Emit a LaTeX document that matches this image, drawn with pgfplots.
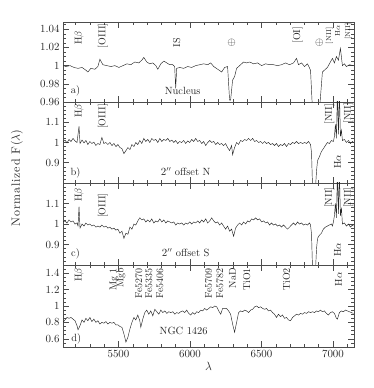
\documentclass[border=0pt]{standalone}
\usepackage{fontspec}
\usepackage{pgfplots}
\usepackage{pgfplotstable}
\pgfplotsset{compat=1.18}
\newfontfamily\widefont{lmroman10-regular}[Extension=.otf, LetterSpace=7]

\pgfplotsset{
  panel/.style={
    scale only axis, width=291bp,
    xmin=5112, xmax=7147,
    xtick={5500,6000,6500,7000},
    minor xtick={5200,5300,...,7100},
    tick align=inside,
    major tick length=6bp, minor tick length=3bp,
    axis line style={black!70, line width=0.6pt},
    every tick/.style={black!70, line width=0.5pt},
    every tick label/.append style={font=\fontsize{11}{13}\selectfont, text=black!85},
    /pgf/number format/1000 sep={},
    clip=true,
  },
  nolabels/.style={xticklabels={}},
}
\tikzset{
  spec/.style={black!85, line width=0.45pt},
  lbl/.style={rotate=90, font=\fontsize{10}{12}\selectfont, inner sep=0pt, anchor=east, text=black!85},
  slbl/.style={rotate=90, font=\fontsize{7}{8}\selectfont, inner sep=0pt, anchor=east, text=black!85},
  ptxt/.style={font=\fontsize{10.5}{12}\selectfont, inner sep=0pt, text=black!85},
}

\begin{document}

% a) nucleus
\pgfplotstableread{
lam f
5112 1.000
5133 0.999
5161 1.000
5189 0.998
5217 0.997
5245 0.998
5272 0.995
5286 0.993
5307 0.997
5335 0.996
5356 0.999
5370 1.007
5391 1.001
5419 1.000
5447 0.999
5475 1.000
5503 0.998
5531 1.000
5559 1.002
5586 1.001
5614 1.004
5642 1.003
5663 1.006
5677 1.009
5698 1.004
5719 1.002
5740 1.003
5761 1.000
5775 0.996
5796 1.002
5817 1.005
5838 1.003
5858 1.001
5879 1.001
5893 0.999
5900 0.975
5907 0.997
5928 0.998
5956 0.997
5984 0.999
6012 0.998
6040 1.000
6068 1.001
6096 1.002
6124 1.001
6145 1.003
6166 0.999
6194 0.996
6222 0.993
6242 0.998
6263 0.999
6277 0.962
6284 0.962
6298 0.984
6312 0.988
6326 0.997
6347 1.000
6375 1.004
6396 1.003
6417 1.004
6445 1.002
6473 1.003
6501 1.000
6529 1.002
6556 1.001
6584 1.001
6612 1.000
6640 1.001
6668 1.003
6696 1.001
6724 1.003
6745 1.008
6759 1.001
6780 1.003
6801 0.999
6822 1.002
6843 0.995
6857 0.950
6905 0.950
6926 0.993
6947 0.996
6961 0.998
6982 1.004
6996 1.008
7010 1.003
7024 1.010
7038 1.006
7052 1.019
7066 1.000
7080 1.002
7094 0.999
7115 1.001
7143 1.000
}\nucleus

% b) 2'' offset N
\pgfplotstableread{
lam f
5112 1.005
5126 1.012
5140 0.998
5154 1.015
5168 1.005
5182 1.020
5196 1.008
5210 1.000
5224 1.080
5231 0.995
5245 1.012
5259 0.998
5272 1.010
5286 0.990
5300 1.005
5314 0.995
5328 1.002
5342 0.985
5356 0.995
5370 0.990
5384 1.025
5398 0.995
5412 1.000
5426 0.990
5440 1.000
5454 0.985
5468 0.995
5482 0.980
5496 0.990
5510 0.975
5524 0.970
5538 0.945
5552 0.960
5566 0.975
5580 0.965
5594 0.990
5608 0.980
5621 1.000
5635 0.990
5649 1.010
5663 0.995
5677 1.020
5691 1.005
5705 1.015
5719 1.000
5733 1.020
5747 1.010
5761 1.015
5775 1.000
5789 1.020
5803 1.005
5817 1.015
5831 1.010
5845 1.020
5859 1.005
5873 1.012
5887 1.000
5900 1.010
5914 0.995
5928 1.005
5942 1.000
5956 1.010
5970 0.995
5984 1.008
5998 1.000
6012 1.015
6026 1.005
6040 1.020
6054 1.005
6068 1.010
6082 0.995
6096 1.005
6110 0.985
6124 1.000
6138 1.010
6152 1.000
6166 1.005
6180 0.990
6194 1.000
6207 0.990
6221 0.995
6235 0.985
6249 0.995
6263 0.975
6277 0.960
6291 0.985
6298 0.940
6312 0.975
6326 1.000
6340 0.990
6354 1.010
6368 1.005
6382 1.015
6396 1.010
6410 1.020
6424 1.010
6438 1.020
6452 1.005
6466 1.010
6480 1.000
6494 1.005
6508 0.995
6522 1.005
6535 0.995
6549 1.000
6563 0.990
6577 0.995
6591 0.985
6605 0.995
6619 0.980
6633 0.990
6647 0.985
6661 0.995
6675 0.980
6689 0.995
6703 0.990
6717 1.000
6731 0.995
6745 1.005
6759 0.995
6773 1.000
6787 0.995
6801 1.000
6815 0.995
6829 1.005
6843 0.990
6850 0.950
6857 0.780
6878 0.780
6885 0.860
6892 0.910
6905 0.930
6919 0.955
6933 0.970
6947 0.985
6961 1.000
6975 0.995
6989 1.010
7003 1.005
7010 1.030
7017 1.090
7024 1.020
7031 1.250
7038 1.040
7045 1.250
7052 1.030
7059 1.060
7066 1.010
7080 1.015
7094 1.000
7108 1.010
7122 0.995
7136 1.005
7143 1.000
}\offsetN

% c) 2'' offset S
\pgfplotstableread{
lam f
5112 1.010
5126 1.015
5140 1.005
5154 1.020
5168 1.010
5182 1.015
5196 1.000
5210 1.005
5217 0.990
5224 1.085
5231 0.980
5245 1.000
5259 0.990
5272 1.005
5286 0.995
5300 1.000
5314 0.990
5328 0.995
5342 0.985
5356 0.990
5370 0.985
5384 0.995
5398 0.985
5412 0.990
5426 0.980
5440 0.985
5454 0.975
5468 0.980
5482 0.970
5496 0.975
5510 0.955
5524 0.965
5538 0.930
5552 0.955
5566 0.950
5580 0.985
5594 0.975
5608 1.000
5621 0.995
5635 1.015
5649 1.030
5663 1.020
5677 1.025
5691 1.010
5705 1.020
5719 1.010
5733 1.025
5747 1.005
5761 1.015
5775 1.010
5789 1.025
5803 1.010
5817 1.020
5831 1.005
5845 1.015
5859 1.010
5873 1.005
5887 1.010
5900 0.995
5914 1.005
5928 1.000
5942 1.005
5956 0.995
5970 1.005
5984 1.000
5998 1.010
6012 1.000
6026 1.010
6040 1.005
6054 1.015
6068 1.005
6082 1.020
6096 1.010
6110 1.025
6124 1.005
6138 1.015
6152 1.030
6166 1.015
6180 1.005
6194 1.010
6207 0.995
6221 1.005
6235 0.990
6249 0.975
6263 0.990
6277 0.965
6291 0.975
6305 0.940
6319 0.980
6333 0.995
6347 1.005
6361 0.995
6375 1.010
6389 1.000
6403 1.015
6417 1.010
6431 1.025
6445 1.020
6459 1.030
6473 1.020
6487 1.025
6501 1.010
6515 1.015
6529 1.005
6543 1.010
6556 0.995
6570 1.005
6584 0.995
6598 1.000
6612 0.990
6626 0.995
6640 0.985
6654 0.995
6668 0.985
6682 0.975
6696 0.985
6710 0.995
6724 1.005
6738 0.995
6752 1.010
6766 1.000
6780 1.005
6794 0.995
6808 1.000
6822 0.995
6836 1.005
6843 0.995
6850 0.950
6857 0.780
6878 0.780
6885 0.880
6892 0.930
6905 0.945
6919 0.955
6933 0.975
6947 0.985
6961 0.990
6975 0.995
6989 1.000
6996 0.990
7003 1.010
7010 1.040
7017 1.100
7024 1.030
7031 1.250
7038 1.050
7045 1.250
7052 1.040
7059 1.080
7066 1.000
7080 1.005
7094 0.990
7108 1.000
7122 0.985
7136 0.995
7143 0.990
}\offsetS

% d) NGC 1426
\pgfplotstableread{
lam f
5112 0.80
5126 0.83
5140 0.86
5154 0.85
5168 0.86
5182 0.84
5196 0.82
5210 0.76
5217 0.71
5231 0.76
5245 0.83
5259 0.80
5272 0.85
5286 0.82
5300 0.86
5314 0.81
5328 0.84
5342 0.80
5356 0.82
5370 0.78
5384 0.80
5398 0.79
5412 0.81
5426 0.78
5440 0.80
5454 0.79
5468 0.80
5482 0.77
5496 0.77
5510 0.75
5524 0.74
5538 0.66
5552 0.56
5566 0.62
5580 0.72
5594 0.80
5608 0.86
5621 0.83
5635 0.89
5649 0.82
5656 0.74
5670 0.84
5684 0.92
5698 0.95
5712 0.90
5726 0.94
5740 0.88
5754 0.96
5768 0.93
5782 0.90
5796 0.95
5810 0.92
5824 0.94
5838 0.91
5852 0.93
5866 0.92
5880 0.93
5894 0.90
5907 0.92
5921 0.91
5935 0.93
5949 0.94
5963 0.92
5977 0.95
5991 0.91
6005 0.89
6019 0.92
6033 0.90
6047 0.93
6061 0.92
6075 0.95
6089 0.94
6103 0.97
6117 0.95
6131 0.97
6145 0.99
6159 0.98
6173 1.00
6187 0.99
6201 0.94
6215 0.90
6228 0.97
6242 0.97
6256 0.97
6270 0.94
6284 0.90
6298 0.78
6312 0.68
6326 0.80
6340 0.92
6354 0.94
6368 0.93
6382 0.95
6396 0.94
6410 0.92
6424 0.95
6438 0.96
6452 0.99
6466 1.00
6480 0.98
6494 0.99
6508 0.97
6522 0.96
6535 0.97
6549 0.94
6563 0.95
6577 0.92
6591 0.90
6605 0.86
6619 0.90
6633 0.87
6647 0.89
6661 0.85
6675 0.86
6689 0.83
6703 0.82
6717 0.86
6731 0.88
6745 0.90
6759 0.89
6773 0.91
6787 0.90
6801 0.92
6815 0.91
6829 0.93
6843 0.92
6857 0.93
6871 0.92
6885 0.94
6898 0.93
6912 0.95
6926 0.93
6940 0.94
6954 0.91
6968 0.89
6982 0.92
6996 0.93
7010 0.91
7024 0.85
7031 0.84
7045 0.92
7059 0.94
7073 0.93
7087 0.95
7101 0.94
7115 0.93
7129 0.92
7143 0.91
}\galaxy

\begin{tikzpicture}
\path[use as bounding box] (0,0) rectangle (374bp,388bp);

% ---- a) Nucleus
\begin{axis}[panel, nolabels,
  at={(63bp,286bp)}, anchor=south west, height=80bp,
  ymin=0.96, ymax=1.048,
  ytick={0.96,0.98,1,1.02,1.04},
  minor ytick={0.965,0.97,0.975,0.985,0.99,0.995,1.005,1.01,1.015,1.025,1.03,1.035,1.045},
]
\addplot[spec] table[x=lam, y=f] {\nucleus};
\node[lbl] at (axis cs:5224,1.038) {H$\beta$};
\node[lbl] at (axis cs:5391,1.0465) {[OIII]};
\node[lbl, anchor=center] at (axis cs:5907,1.025) {IS};
\node[ptxt] at (axis cs:6291,1.025) {$\oplus$};
\node[lbl] at (axis cs:6752,1.043) {[OI]};
\node[ptxt] at (axis cs:6905,1.025) {$\oplus$};
\node[slbl] at (axis cs:6975,1.042) {[NII]};
\node[slbl] at (axis cs:7031,1.0445) {H$\alpha$};
\node[slbl] at (axis cs:7108,1.0465) {[NII]};
\node[ptxt] at (axis cs:5200,0.972) {a)};
\node[ptxt] at (axis cs:5949,0.972) {Nucleus};
\end{axis}

% ---- b) 2'' offset N
\begin{axis}[panel, nolabels,
  at={(63bp,205bp)}, anchor=south west, height=81bp,
  ymin=0.8, ymax=1.2,
  ytick={0.9,1,1.1},
  minor ytick={0.82,0.84,0.86,0.88,0.92,0.94,0.96,0.98,1.02,1.04,1.06,1.08,1.12,1.14,1.16,1.18},
]
\addplot[spec] table[x=lam, y=f] {\offsetN};
\node[lbl] at (axis cs:5224,1.19) {H$\beta$};
\node[lbl] at (axis cs:5391,1.19) {[OIII]};
\node[lbl] at (axis cs:6975,1.19) {[NII]};
\node[lbl] at (axis cs:7108,1.195) {[NII]};
\node[lbl, anchor=center] at (axis cs:7031,0.904) {H$\alpha$};
\node[ptxt] at (axis cs:5200,0.852) {b)};
\node[ptxt] at (axis cs:5970,0.857) {$2''$ offset N};
\end{axis}

% ---- c) 2'' offset S
\begin{axis}[panel, nolabels,
  at={(63bp,123bp)}, anchor=south west, height=82bp,
  ymin=0.8, ymax=1.2,
  ytick={0.9,1,1.1},
  minor ytick={0.82,0.84,0.86,0.88,0.92,0.94,0.96,0.98,1.02,1.04,1.06,1.08,1.12,1.14,1.16,1.18},
]
\addplot[spec] table[x=lam, y=f] {\offsetS};
\node[lbl] at (axis cs:5224,1.176) {H$\beta$};
\node[lbl] at (axis cs:5391,1.151) {[OIII]};
\node[lbl] at (axis cs:6975,1.18) {[NII]};
\node[lbl] at (axis cs:7108,1.18) {[NII]};
\node[lbl, anchor=center] at (axis cs:7031,0.873) {H$\alpha$};
\node[ptxt] at (axis cs:5200,0.854) {c)};
\node[ptxt] at (axis cs:5970,0.859) {$2''$ offset S};
\end{axis}

% ---- d) NGC 1426
\begin{axis}[panel,
  at={(63bp,41bp)}, anchor=south west, height=82bp,
  ymin=0.5, ymax=1.5,
  ytick={0.6,0.8,1,1.2,1.4},
  minor ytick={0.55,0.65,0.7,0.75,0.85,0.9,0.95,1.05,1.1,1.15,1.25,1.3,1.35,1.45},
  xlabel={$\lambda$},
  xlabel style={font=\fontsize{12}{14}\selectfont, text=black!85, yshift=2bp},
]
\addplot[spec] table[x=lam, y=f] {\galaxy};
\node[lbl] at (axis cs:5224,1.463) {H$\beta$};
\node[lbl] at (axis cs:5468,1.463) {Mg 1};
\node[lbl] at (axis cs:5517,1.463) {Mgb};
\node[lbl] at (axis cs:5642,1.463) {Fe5270};
\node[lbl] at (axis cs:5712,1.463) {Fe5335};
\node[lbl] at (axis cs:5789,1.463) {Fe5406};
\node[lbl] at (axis cs:6131,1.463) {Fe5709};
\node[lbl] at (axis cs:6208,1.463) {Fe5782};
\node[lbl] at (axis cs:6298,1.463) {NaD};
\node[lbl] at (axis cs:6396,1.463) {TiO1};
\node[lbl] at (axis cs:6675,1.463) {TiO2};
\node[lbl] at (axis cs:7038,1.415) {H$\alpha$};
\node[ptxt] at (axis cs:5205,0.598) {d)};
\node[ptxt] at (axis cs:5956,0.695) {NGC 1426};
\end{axis}

\node[rotate=90, font=\fontsize{12}{14}\widefont, text=black!85] at (17bp,210bp) {Normalized F($\lambda$)};
\end{tikzpicture}
\end{document}
